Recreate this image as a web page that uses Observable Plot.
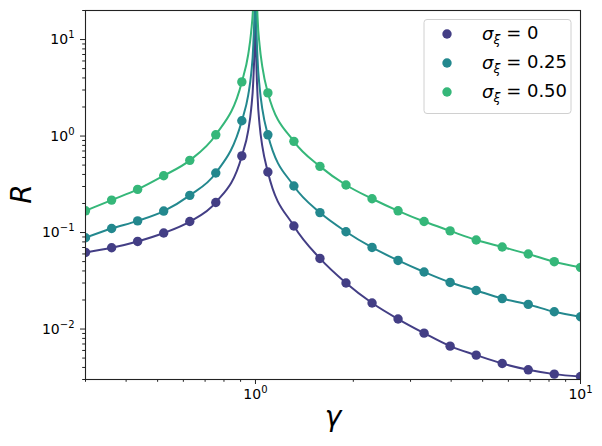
<!DOCTYPE html>
<html><head><meta charset="utf-8">
<script src="https://cdn.jsdelivr.net/npm/d3@7"></script>
<script src="https://cdn.jsdelivr.net/npm/@observablehq/plot@0.6"></script>
<style>body{margin:0;background:#fff} svg{display:block}</style>
</head><body><div id="chart"></div>
<script>
// sample points (dots)
const gamma = [0.3, 0.361, 0.434, 0.522, 0.628, 0.755, 0.908, 1.092, 1.313, 1.579, 1.899, 2.284, 2.746, 3.302, 3.971, 4.776, 5.743, 6.906, 8.305, 10];
const R0  = [0.0622, 0.0696, 0.0809, 0.0989, 0.130, 0.205, 0.622, 0.424, 0.117, 0.0539, 0.0300, 0.0186, 0.0127, 0.00907, 0.00665, 0.00537, 0.00439, 0.00378, 0.00341, 0.00322];
const R25 = [0.0884, 0.110, 0.132, 0.167, 0.243, 0.414, 1.44, 1.03, 0.304, 0.161, 0.102, 0.0701, 0.0514, 0.0390, 0.0304, 0.0251, 0.0207, 0.0180, 0.0151, 0.0134];
const R50 = [0.168, 0.217, 0.280, 0.388, 0.560, 1.03, 3.64, 2.80, 0.881, 0.485, 0.311, 0.224, 0.168, 0.130, 0.104, 0.0837, 0.0708, 0.0599, 0.0499, 0.0435];
// extra curve points read near the divergence at gamma = 1
const gammaPeak = [0.95, 0.97, 0.985, 0.995, 0.999, 1.001, 1.005, 1.015, 1.03, 1.05];
const R0peak  = [1.14, 1.9, 3.8, 11.4, 57, 39, 7.8, 2.6, 1.3, 0.78];
const R25peak = [2.66, 4.4, 8.9, 26.6, 133, 95, 19, 6.3, 3.2, 1.9];
const R50peak = [7.0, 12, 24, 67, 335, 260, 52, 17, 8.7, 5.2];

const seriesKeys = ["0", "0.25", "0.50"];
const seriesColors = ["#433e85", "#23888e", "#35b779"];
const seriesR = [R0, R25, R50];
const seriesPeak = [R0peak, R25peak, R50peak];

const xMajor = [1, 10];
const xMajorExp = ["0", "1"];
const xMinor = [0.3, 0.4, 0.5, 0.6, 0.7, 0.8, 0.9, 2, 3, 4, 5, 6, 7, 8, 9];
const yMajor = [0.01, 0.1, 1, 10];
const yMajorExp = ["−2", "−1", "0", "1"];
const yMinor = [0.003,0.004,0.005,0.006,0.007,0.008,0.009,0.02,0.03,0.04,0.05,0.06,0.07,0.08,0.09,0.2,0.3,0.4,0.5,0.6,0.7,0.8,0.9,2,3,4,5,6,7,8,9,20];

const pts = seriesKeys.flatMap((k, j) => gamma.map((g, i) => ({s: k, g, r: seriesR[j][i]})));
const linePts = seriesKeys.flatMap((k, j) =>
  [...gamma.map((g, i) => ({g, r: seriesR[j][i]})), ...gammaPeak.map((g, i) => ({g, r: seriesPeak[j][i]}))]
    .sort((a, b) => a.g - b.g).map(d => ({...d, s: k})));

const fmtX = d => "10^" + xMajorExp[xMajor.indexOf(d)];
const fmtY = d => "10^" + yMajorExp[yMajor.indexOf(d)];

const chart = Plot.plot({
  width: 602, height: 446,
  marginLeft: 85, marginRight: 22, marginTop: 10, marginBottom: 67,
  x: {type: "log", domain: [0.3, 10]},
  y: {type: "log", domain: [0.003, 20]},
  color: {domain: seriesKeys, range: seriesColors},
  style: {fontFamily: "DejaVu Sans", fontSize: "13.5px", color: "#000", background: "#fff"},
  marks: [
    Plot.line(linePts, {x: "g", y: "r", z: "s", stroke: "s", strokeWidth: 2, curve: "monotone-x", clip: true}),
    Plot.dot(pts, {x: "g", y: "r", fill: "s", r: 4.7, clip: true}),
    Plot.axisX({ticks: xMajor, tickFormat: fmtX, tickSize: 5, tickPadding: 5, label: null, stroke: "#222", fill: "#000"}),
    Plot.axisX({ticks: xMinor, tickFormat: () => "", tickSize: 2.8, label: null, stroke: "#222"}),
    Plot.axisY({ticks: yMajor, tickFormat: fmtY, tickSize: 5, tickPadding: 6, label: null, stroke: "#222", fill: "#000"}),
    Plot.axisY({ticks: yMinor, tickFormat: () => "", tickSize: 2.8, label: null, stroke: "#222"}),
    Plot.frame({stroke: "#222", strokeWidth: 1.1})
  ]
});
document.getElementById("chart").appendChild(chart);

const svg = d3.select(chart);
// turn "10^e" tick labels into base + superscript
svg.selectAll("text").each(function () {
  const el = d3.select(this);
  const txt = el.text();
  if (!txt.startsWith("10^")) return;
  const e = txt.slice(3);
  el.text("");
  el.style("font-size", "14px").style("font-family", "DejaVu Sans").attr("font-size", 14);
  el.append("tspan").text("10");
  el.append("tspan").style("font-size", "10px").attr("dy", "-0.6em").text(e);
});

svg.append("text").attr("transform", "translate(31,194) rotate(-90)")
  .attr("text-anchor", "middle").attr("font-family", "DejaVu Sans").attr("font-style", "italic")
  .attr("font-size", 28).attr("fill", "#000").text("R");
svg.append("text").attr("x", 333).attr("y", 426)
  .attr("text-anchor", "middle").attr("font-family", "DejaVu Sans").attr("font-style", "italic")
  .attr("font-size", 28).attr("fill", "#000").text("γ");

// legend
const lg = svg.append("g");
lg.append("rect").attr("x", 424).attr("y", 19.5).attr("width", 147).attr("height", 94)
  .attr("rx", 3).attr("fill", "#fff").attr("fill-opacity", 0.8).attr("stroke", "#d0d0d0");
seriesKeys.forEach((k, i) => {
  const y = 34 + i * 29;
  lg.append("circle").attr("cx", 447).attr("cy", y).attr("r", 4.7).attr("fill", seriesColors[i]);
  const t = lg.append("text").attr("x", 482).attr("y", y).attr("dy", "0.35em")
    .attr("text-anchor", "start")
    .attr("font-family", "DejaVu Sans").attr("font-size", 18).attr("fill", "#000");
  t.append("tspan").attr("font-style", "italic").text("σ");
  t.append("tspan").attr("font-style", "italic").attr("font-size", 12.5).attr("dy", "0.3em").text("ξ");
  t.append("tspan").attr("dy", "-0.3em").text(" = " + k);
});
</script>
</body></html>
